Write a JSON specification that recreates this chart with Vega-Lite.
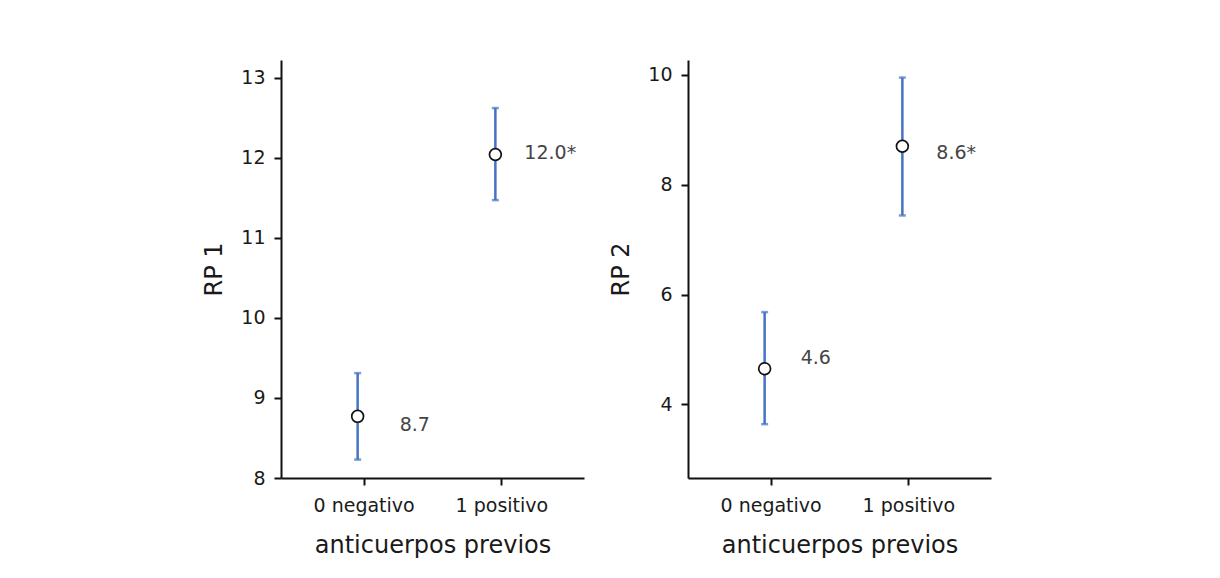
{
  "$schema": "https://vega.github.io/schema/vega-lite/v6.json",
  "background": "white",
  "padding": {"left": 202, "top": 60, "right": 5, "bottom": 5},
  "datasets": {
    "rp1": [
      {"grupo": "0 negativo", "media": 8.77, "inf": 8.23, "sup": 9.31, "etiqueta": "8.7"},
      {"grupo": "1 positivo", "media": 12.04, "inf": 11.47, "sup": 12.62, "etiqueta": "12.0*"}
    ],
    "rp2": [
      {"grupo": "0 negativo", "media": 4.65, "inf": 3.64, "sup": 5.68, "etiqueta": "4.6"},
      {"grupo": "1 positivo", "media": 8.7, "inf": 7.44, "sup": 9.95, "etiqueta": "8.6*"}
    ]
  },
  "bounds": "flush",
  "spacing": 104,
  "hconcat": [
    {
      "width": 303,
      "height": 418,
      "view": {"stroke": null},
      "data": {"name": "rp1"},
      "encoding": {
        "x": {"field": "grupo", "type": "nominal", "scale": {"type": "point", "padding": 0.6},
          "axis": {"title": "anticuerpos previos", "labelAngle": 0, "labelFontSize": 19, "labelPadding": 11, "titlePadding": 18}}
      },
      "layer": [
        {
          "mark": {"type": "rule", "color": "#4472C4", "strokeWidth": 2.5, "xOffset": -6},
          "encoding": {
            "y": {"field": "inf", "type": "quantitative", "scale": {"domain": [8, 13.22], "nice": false, "zero": false},
              "axis": {"title": "RP 1", "values": [8, 9, 10, 11, 12, 13], "format": "d", "labelFontSize": 19, "labelPadding": 9, "titlePadding": 14}},
            "y2": {"field": "sup"}
          }
        },
        {
          "mark": {"type": "tick", "color": "#4472C4", "size": 7, "thickness": 2.5, "xOffset": -6, "orient": "horizontal"},
          "encoding": {"y": {"field": "inf", "type": "quantitative"}}
        },
        {
          "mark": {"type": "tick", "color": "#4472C4", "size": 7, "thickness": 2.5, "xOffset": -6, "orient": "horizontal"},
          "encoding": {"y": {"field": "sup", "type": "quantitative"}}
        },
        {
          "mark": {"type": "point", "shape": "circle", "filled": true, "fill": "white", "stroke": "#111111", "strokeWidth": 1.7, "size": 140, "opacity": 1, "xOffset": -6},
          "encoding": {"y": {"field": "media", "type": "quantitative"}}
        },
        {
          "transform": [{"filter": "datum.grupo === '0 negativo'"}],
          "mark": {"type": "text", "align": "left", "baseline": "middle", "font": "DejaVu Sans", "fontSize": 19, "color": "#454545", "dx": 36, "dy": 9},
          "encoding": {"y": {"field": "media", "type": "quantitative"}, "text": {"field": "etiqueta"}}
        },
        {
          "transform": [{"filter": "datum.grupo === '1 positivo'"}],
          "mark": {"type": "text", "align": "left", "baseline": "middle", "font": "DejaVu Sans", "fontSize": 19, "color": "#454545", "dx": 23, "dy": -1},
          "encoding": {"y": {"field": "media", "type": "quantitative"}, "text": {"field": "etiqueta"}}
        }
      ]
    },
    {
      "width": 303,
      "height": 418,
      "view": {"stroke": null},
      "data": {"name": "rp2"},
      "encoding": {
        "x": {"field": "grupo", "type": "nominal", "scale": {"type": "point", "padding": 0.6},
          "axis": {"title": "anticuerpos previos", "labelAngle": 0, "labelFontSize": 19, "labelPadding": 11, "titlePadding": 18}}
      },
      "layer": [
        {
          "mark": {"type": "rule", "color": "#4472C4", "strokeWidth": 2.5, "xOffset": -6},
          "encoding": {
            "y": {"field": "inf", "type": "quantitative", "scale": {"domain": [2.66, 10.27], "nice": false, "zero": false},
              "axis": {"title": "RP 2", "values": [4, 6, 8, 10], "format": "d", "labelFontSize": 19, "labelPadding": 9, "titlePadding": 14}},
            "y2": {"field": "sup"}
          }
        },
        {
          "mark": {"type": "tick", "color": "#4472C4", "size": 7, "thickness": 2.5, "xOffset": -6, "orient": "horizontal"},
          "encoding": {"y": {"field": "inf", "type": "quantitative"}}
        },
        {
          "mark": {"type": "tick", "color": "#4472C4", "size": 7, "thickness": 2.5, "xOffset": -6, "orient": "horizontal"},
          "encoding": {"y": {"field": "sup", "type": "quantitative"}}
        },
        {
          "mark": {"type": "point", "shape": "circle", "filled": true, "fill": "white", "stroke": "#111111", "strokeWidth": 1.7, "size": 140, "opacity": 1, "xOffset": -6},
          "encoding": {"y": {"field": "media", "type": "quantitative"}}
        },
        {
          "transform": [{"filter": "datum.grupo === '0 negativo'"}],
          "mark": {"type": "text", "align": "left", "baseline": "middle", "font": "DejaVu Sans", "fontSize": 19, "color": "#454545", "dx": 30, "dy": -11},
          "encoding": {"y": {"field": "media", "type": "quantitative"}, "text": {"field": "etiqueta"}}
        },
        {
          "transform": [{"filter": "datum.grupo === '1 positivo'"}],
          "mark": {"type": "text", "align": "left", "baseline": "middle", "font": "DejaVu Sans", "fontSize": 19, "color": "#454545", "dx": 28, "dy": 7},
          "encoding": {"y": {"field": "media", "type": "quantitative"}, "text": {"field": "etiqueta"}}
        }
      ]
    }
  ],
  "config": {
    "font": "DejaVu Sans",
    "axis": {
      "grid": false,
      "domainColor": "#111111",
      "domainWidth": 2,
      "tickColor": "#111111",
      "tickWidth": 2,
      "tickSize": 7,
      "labelFont": "DejaVu Sans",
      "labelFontSize": 19,
      "labelColor": "#1a1a1a",
      "titleFont": "DejaVu Sans",
      "titleFontSize": 24,
      "titleFontWeight": "normal",
      "titleColor": "#1a1a1a"
    }
  }
}
